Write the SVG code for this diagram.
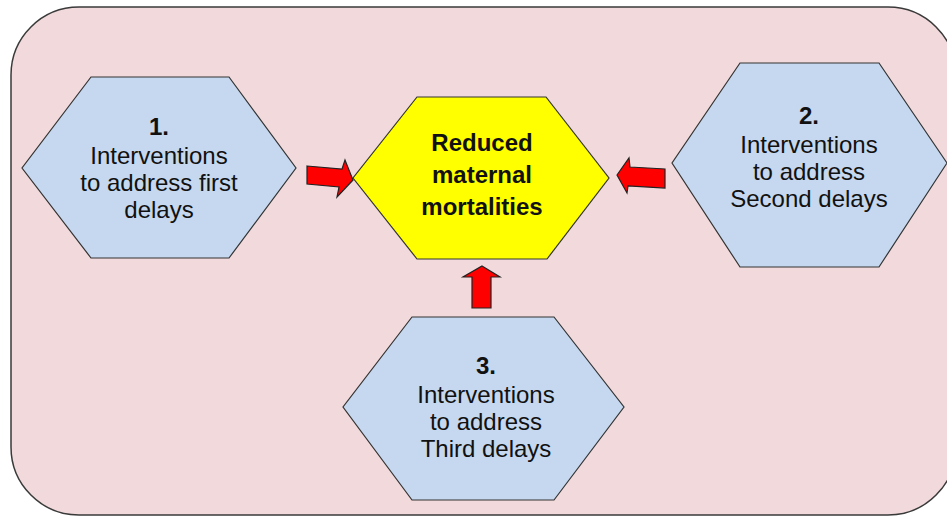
<svg xmlns="http://www.w3.org/2000/svg" width="947" height="517" viewBox="0 0 947 517">
<style>
.bg{fill:#f2dadc;stroke:#3a3a3a;stroke-width:1.5}
.hex{fill:#c6d8ef;stroke:#333;stroke-width:1.2}
.hexc{fill:#ffff00;stroke:#333;stroke-width:1.2}
.arr{fill:#ff0000;stroke:#222;stroke-width:1.2;stroke-linejoin:miter}
text{font-family:"Liberation Sans",Arial,sans-serif;font-size:24px;fill:#111;text-anchor:middle}
.b{font-weight:bold}
</style>
<rect class="bg" x="11" y="7" width="945" height="508" rx="68" ry="68"/>
<g id="node-center">
<polygon class="hexc" points="417,97 546,97 609,178 547,259 417,259 353,178"/>
<text class="b" x="482" y="151">Reduced</text>
<text class="b" x="482" y="183">maternal</text>
<text class="b" x="482" y="215">mortalities</text>
</g>
<g id="node-1">
<polygon class="hex" points="91,77 229,77 296,168 229,258 91,258 22,168"/>
<text class="b" x="159" y="135">1.</text>
<text x="159" y="164">Interventions</text>
<text x="159" y="191">to address first</text>
<text x="159" y="218">delays</text>
</g>
<g id="node-2">
<polygon class="hex" points="740,63 879,63 947,163 879,267 740,267 672,163"/>
<text class="b" x="809" y="124">2.</text>
<text x="809" y="153">Interventions</text>
<text x="809" y="180">to address</text>
<text x="809" y="207">Second delays</text>
</g>
<g id="node-3">
<polygon class="hex" points="412,317 554,317 624,407 554,500 412,500 343,407"/>
<text class="b" x="486" y="374">3.</text>
<text x="486" y="403">Interventions</text>
<text x="486" y="430">to address</text>
<text x="486" y="457">Third delays</text>
</g>
<g id="connectors">
<polygon class="arr" points="307,166 342,169 345,160 353,180 337,197 339,187 307,184"/>
<polygon class="arr" points="617,175 629,158 630,167 665,169 665,188 628,186 627,193"/>
<polygon class="arr" points="482,266 500,277 491,277 491,308 472,308 472,277 463,277"/>
</g>
</svg>
